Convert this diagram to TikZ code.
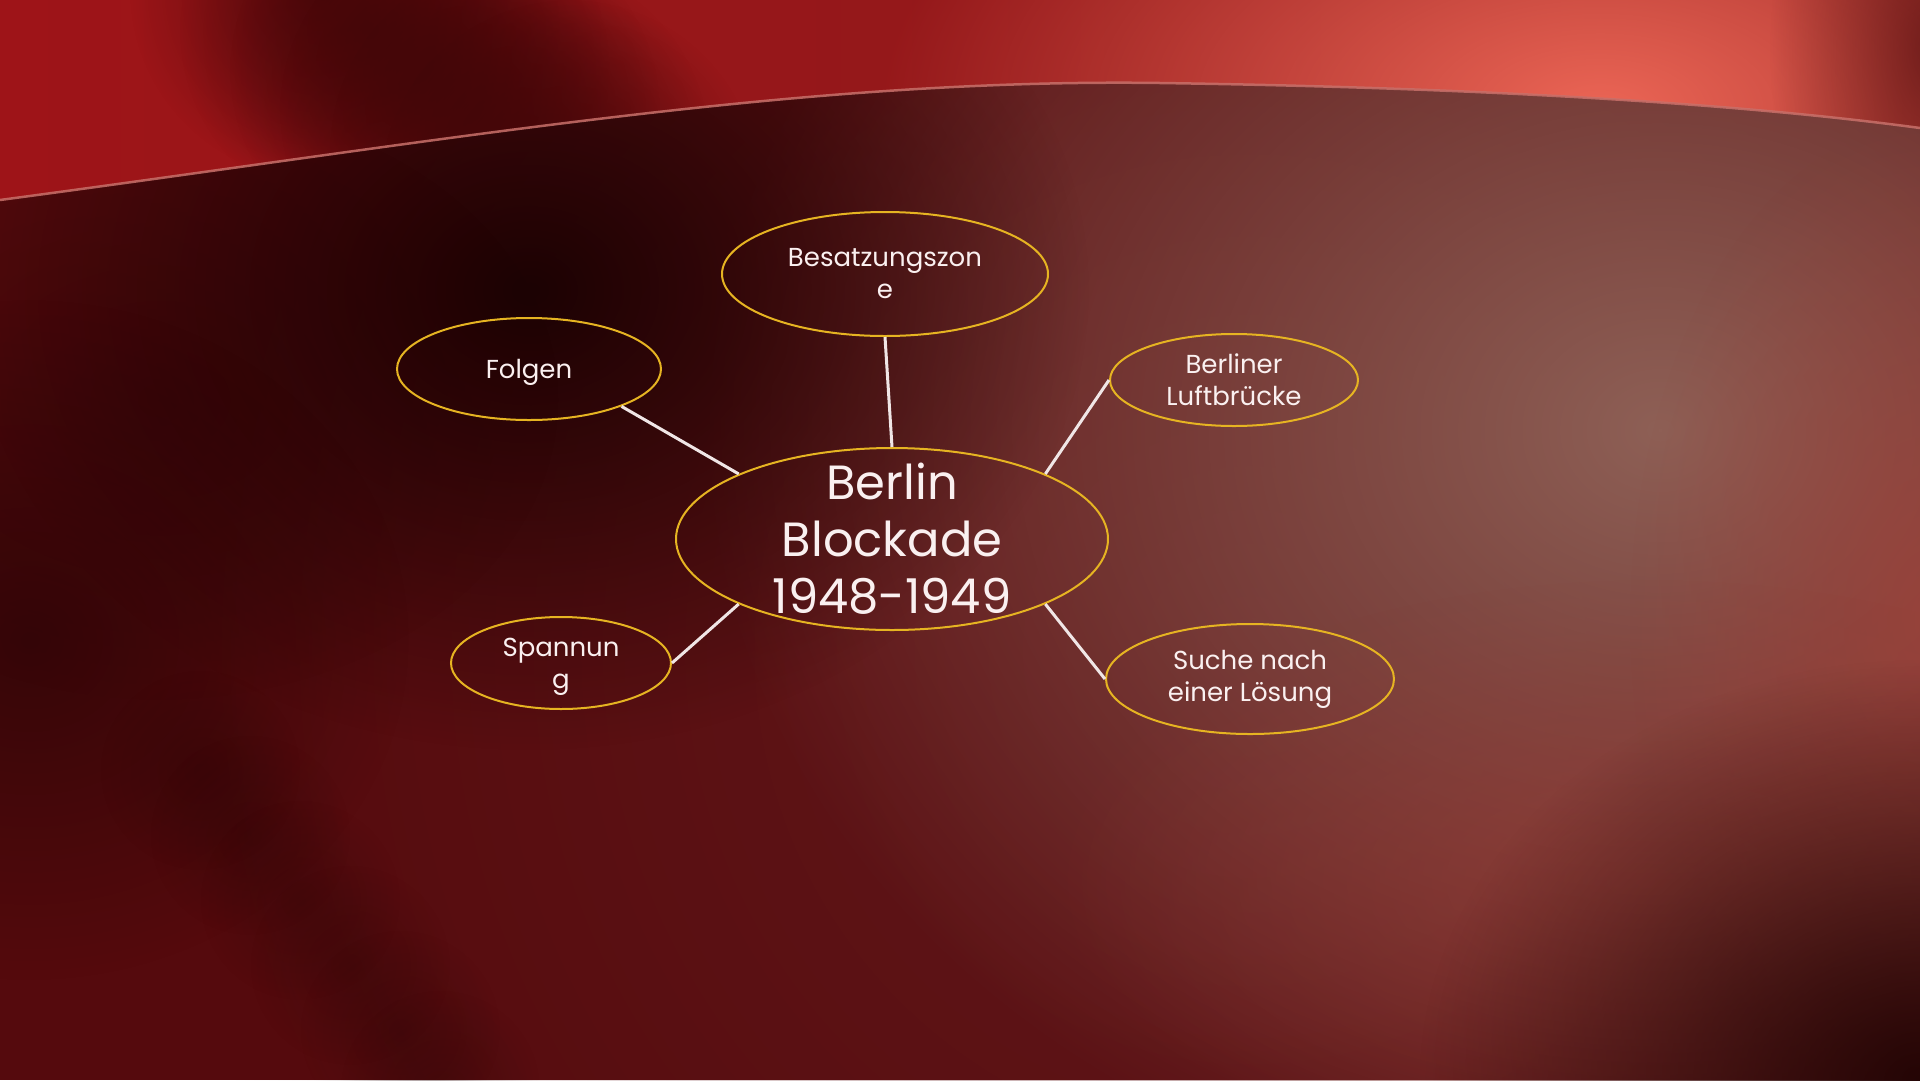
\documentclass[tikz,border=0pt]{standalone}
\usepackage{fontspec}
\setmainfont{Poppins}
\usetikzlibrary{shapes.geometric,fadings}
\tikzfading[name=soft, inner color=transparent!0, outer color=transparent!100]
\definecolor{bgbase}{HTML}{550A0D}
\definecolor{darkspot}{HTML}{1C0203}
\definecolor{glowc}{HTML}{8E6056}
\definecolor{redside}{HTML}{A2423A}
\definecolor{midmaroon}{HTML}{6A2224}
\definecolor{cornerdark}{HTML}{240505}
\definecolor{topred}{HTML}{9E1418}
\definecolor{topmid}{HTML}{921418}
\definecolor{topright}{HTML}{8A1C1C}
\definecolor{salmon}{HTML}{EC6656}
\definecolor{topdark}{HTML}{420608}
\definecolor{curveline}{HTML}{C8706A}
\definecolor{gold}{HTML}{E6B422}
\definecolor{txtc}{HTML}{FAF0F0}
\definecolor{linec}{HTML}{F0E6E6}
\begin{document}
\begin{tikzpicture}[x=1pt,y=-1pt,
  bubble/.style={ellipse, draw=gold, line width=2pt, inner sep=0pt},
  txt/.style={text=txtc, align=center, inner sep=0pt, font=\fontsize{26}{32}\selectfont},
  bigtxt/.style={text=txtc, align=center, inner sep=0pt, font=\fontsize{48}{57}\selectfont},
  conn/.style={draw=linec, line width=3pt}]
\useasboundingbox (0,0) rectangle (1920,1080);
% ---------- background ----------
\begin{scope}
\clip (0,0) rectangle (1920,1080);
\fill[bgbase] (0,0) rectangle (1920,1080);
\fill[midmaroon, path fading=soft, opacity=0.6] (1250,650) ellipse [x radius=1100, y radius=1100];
\fill[glowc, path fading=soft] (1660,430) ellipse [x radius=960, y radius=800];
\fill[redside, path fading=soft, opacity=0.7] (1930,620) ellipse [x radius=300, y radius=500];
\fill[redside, path fading=soft, opacity=0.5] (1650,880) ellipse [x radius=600, y radius=300];
\fill[darkspot, path fading=soft] (530,290) ellipse [x radius=560, y radius=460];
\fill[darkspot, path fading=soft, opacity=0.3] (160,400) ellipse [x radius=400, y radius=300];
\fill[darkspot, path fading=soft, opacity=0.55] (30,640) ellipse [x radius=380, y radius=340];
\foreach \px/\py in {200/770,250/835,300/900,350/965,400/1030,440/1090}
  \fill[darkspot, path fading=soft, opacity=0.25] (\px,\py) ellipse [x radius=100, y radius=100];
\fill[cornerdark, path fading=soft] (1920,1080) ellipse [x radius=500, y radius=420];
% top band above the curve
\begin{scope}
\clip (0,200) .. controls (450,140) and (800,78) .. (1160,83)
      .. controls (1500,88) and (1750,105) .. (1920,128) -- (1920,0) -- (0,0) -- cycle;
\shade[left color=topred, middle color=topmid, right color=topright] (0,0) rectangle (1920,210);
\fill[salmon, path fading=soft] (1600,110) ellipse [x radius=720, y radius=380];
\foreach \px/\py in {320/-10,370/30,420/70,470/110,520/150,570/190}
  \fill[topdark, path fading=soft, opacity=0.75] (\px,\py) ellipse [x radius=190, y radius=190];
\fill[topdark, path fading=soft, opacity=0.6] (1930,50) ellipse [x radius=160, y radius=300];
\end{scope}
\draw[curveline, line width=2.5pt, opacity=0.85]
  (0,200) .. controls (450,140) and (800,78) .. (1160,83)
  .. controls (1500,88) and (1750,105) .. (1920,128);
\end{scope}
% ---------- nodes ----------
\node[bubble, minimum width=432, minimum height=182] (c) at (892,539) {};
\node[bubble, minimum width=326, minimum height=124] (bz) at (885,274) {};
\node[bubble, minimum width=264, minimum height=102] (fo) at (529,369) {};
\node[bubble, minimum width=248, minimum height=92] (lb) at (1234,380) {};
\node[bubble, minimum width=288, minimum height=110] (su) at (1250,679) {};
\node[bubble, minimum width=220, minimum height=92] (sp) at (561,663) {};
\node[bigtxt] (ct) at (c) {Berlin\\Blockade\\1948-1949};
\node[txt] (bzt) at (bz) {Besatzungszon\\e};
\node[txt] (fot) at ([yshift=-3]fo.center) {Folgen};
\node[txt] (lbt) at (lb) {Berliner\\Luftbrücke};
\node[txt] (sut) at (su) {Suche nach\\einer Lösung};
\node[txt] (spt) at ([yshift=-4]sp.center) {Spannun\\g};
% ---------- connectors ----------
\draw[conn] (bz.south) -- (c.north);
\draw[conn] (fo.-22) -- (c.157);
\draw[conn] (lb.180) -- (c.23);
\draw[conn] (su.180) -- (c.-23);
\draw[conn] (sp.0) -- (c.203);
\end{tikzpicture}
\end{document}
